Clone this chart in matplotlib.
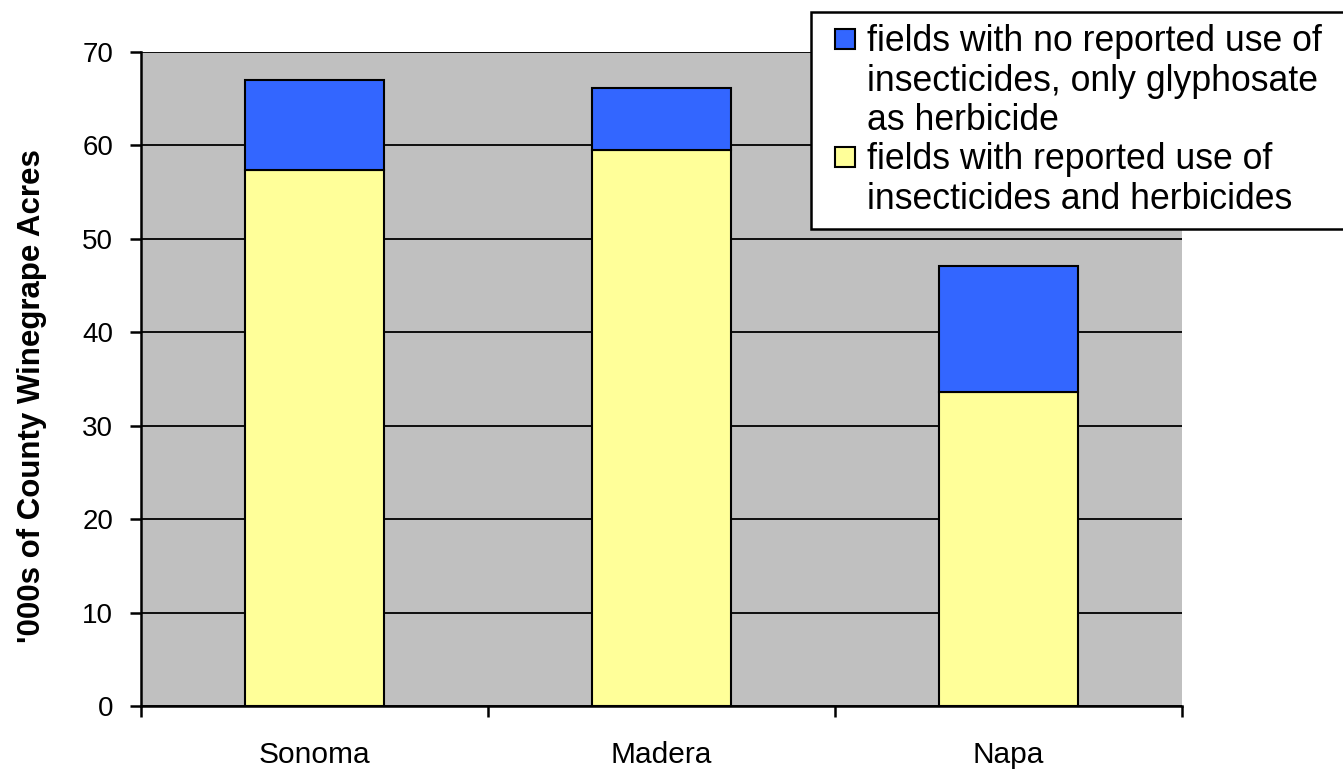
import numpy as np
import matplotlib.pyplot as plt
from matplotlib.patches import Patch, Rectangle
from matplotlib.legend_handler import HandlerPatch
from matplotlib.ticker import FixedLocator, NullFormatter

plt.rcParams['font.family'] = ['Liberation Sans', 'DejaVu Sans']

counties = ['Sonoma', 'Madera', 'Napa']
with_use = [57.4, 59.5, 33.6]       # reported insecticides and herbicides
glypho_only = [9.6, 6.6, 13.5]      # no insecticides, only glyphosate

yellow = '#FFFF99'
blue = '#3366FF'

fig = plt.figure(figsize=(13.43, 7.71), dpi=100)
ax = fig.add_axes([0.105, 0.0843, 0.775, 0.8483])
ax.set_facecolor('#C0C0C0')

x = np.arange(len(counties)) + 0.5
ax.bar(x, with_use, width=0.40, color=yellow, edgecolor='black', linewidth=1.5, zorder=3)
ax.bar(x, glypho_only, width=0.40, bottom=with_use, color=blue, edgecolor='black',
       linewidth=1.5, zorder=3)

ax.set_xlim(0, 3)
ax.set_ylim(0, 70)
ax.set_yticks(range(0, 71, 10))
ax.yaxis.grid(True, color='black', linewidth=1.3, zorder=1)
ax.set_axisbelow(True)

ax.xaxis.set_major_locator(FixedLocator([0, 1, 2, 3]))
ax.xaxis.set_major_formatter(NullFormatter())
ax.xaxis.set_minor_locator(FixedLocator(x))
ax.set_xticklabels(counties, minor=True)
ax.tick_params(axis='x', which='minor', length=0, pad=25, labelsize=21.5)
ax.tick_params(axis='x', which='major', length=8, width=1.8)
ax.tick_params(axis='y', length=8, width=1.8, pad=12, labelsize=20)

for s in ['top', 'right']:
    ax.spines[s].set_visible(False)
for s in ['left', 'bottom']:
    ax.spines[s].set_linewidth(1.8)

ax.set_ylabel("'000s of County Winegrape Acres", fontsize=22.5, fontweight='bold')
ax.yaxis.set_label_coords(-0.09, 0.474)


# legend square drawn at the right end of the handle box
def square(legend, orig_handle, xdescent, ydescent, width, height, fontsize):
    sq = 0.55 * fontsize
    return Rectangle((-xdescent + width - sq, -ydescent + (height - sq) / 2), sq, sq)


blank = Patch(facecolor='none', edgecolor='none')
leg_handles = [Patch(facecolor=blue, edgecolor='black', linewidth=1.5), blank, blank,
               Patch(facecolor=yellow, edgecolor='black', linewidth=1.5), blank]
leg_labels = ['fields with no reported use of   ', 'insecticides, only glyphosate',
              'as herbicide', 'fields with reported use of',
              'insecticides and herbicides']
leg = fig.legend(leg_handles, leg_labels, loc='upper left',
                 bbox_to_anchor=(811 / 1343, 1 - 12 / 771), fontsize=25.7,
                 frameon=True, fancybox=False, framealpha=1, edgecolor='black',
                 handlelength=0.88, handleheight=0.55, handletextpad=0.34,
                 labelspacing=0.12, borderpad=0.35, borderaxespad=0,
                 handler_map={Patch: HandlerPatch(patch_func=square)})
leg.get_frame().set_linewidth(1.8)

plt.savefig('out.png', dpi=100)
